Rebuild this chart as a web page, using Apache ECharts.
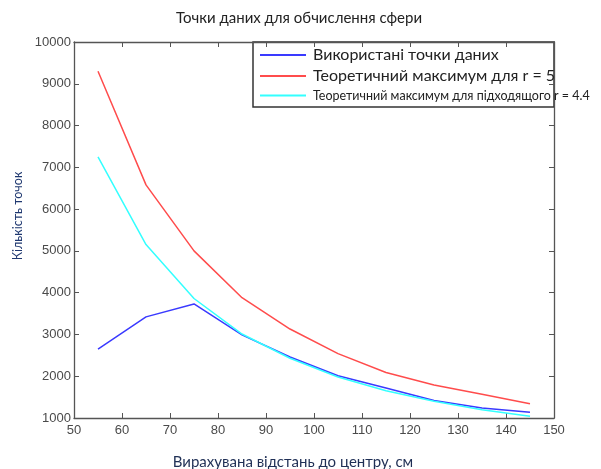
<!DOCTYPE html>
<html>
<head>
<meta charset="utf-8">
<script src="https://cdn.jsdelivr.net/npm/echarts@6/dist/echarts.min.js"></script>
<style>html,body{margin:0;padding:0;background:#fff}#c{width:601px;height:469px}</style>
</head>
<body>
<div id="c"></div>
<script>
var distances = [55, 65, 75, 85, 95, 105, 115, 125, 135, 145];
var usedPoints = [2650, 3420, 3730, 2990, 2460, 2010, 1720, 1420, 1240, 1140];
var theoryR5 = [9300, 6580, 5000, 3880, 3130, 2540, 2090, 1790, 1570, 1340];
var theoryR44 = [7250, 5150, 3860, 3010, 2430, 1980, 1650, 1400, 1200, 1040];
var seriesNames = ['Використані точки даних', 'Теоретичний максимум для r = 5', 'Теоретичний максимум для підходящого r = 4.4'];
var titleText = 'Точки даних для обчислення сфери';
var xName = 'Вирахувана відстань до центру, см';
var yName = 'Кількість точок';

function pairs(vals){ return distances.map(function(d,i){ return [d, vals[i]]; }); }

var chart = echarts.init(document.getElementById('c'), null, {renderer:'canvas'});
var tickFont = {color:'#4a4a4a', fontFamily:'"Liberation Sans", Arial, sans-serif', fontSize:13};
var axLine = {show:true, lineStyle:{color:'#555', width:1.3}};
var tick = {show:true, inside:true, length:5, lineStyle:{color:'#555'}};
var capFont = 'Lato, "Open Sans", sans-serif';
chart.setOption({
  animation:false,
  grid:{left:74, right:47, top:42, bottom:51, show:false},
  xAxis:[
    {type:'value', min:50, max:150, interval:10, axisLine:axLine, axisTick:tick, splitLine:{show:false},
     axisLabel:Object.assign({margin:6, formatter:function(v){return String(v);}}, tickFont)},
    {type:'value', position:'top', min:50, max:150, interval:10, axisLine:axLine, axisTick:tick, splitLine:{show:false}, axisLabel:{show:false}}
  ],
  yAxis:[
    {type:'value', min:1000, max:10000, interval:1000, axisLine:axLine, axisTick:tick, splitLine:{show:false},
     axisLabel:Object.assign({margin:3, formatter:function(v){return String(v);}}, tickFont)},
    {type:'value', position:'right', min:1000, max:10000, interval:1000, axisLine:axLine, axisTick:tick, splitLine:{show:false}, axisLabel:{show:false}}
  ],
  legend:{
    orient:'vertical', left:260, top:47, itemWidth:46, itemHeight:2, itemGap:5, padding:0, icon:'rect',
    data:[
      {name:seriesNames[0], textStyle:{fontSize:16}},
      {name:seriesNames[1], textStyle:{fontSize:16}},
      {name:seriesNames[2], textStyle:{fontSize:12.5}}
    ],
    textStyle:{color:'#222', fontFamily:capFont, padding:[0,0,0,2]}
  },
  graphic:[
    {type:'rect', shape:{x:253, y:42, width:301, height:65}, style:{fill:'#fff', stroke:'#333', lineWidth:1.5}, z:-1, zlevel:0},
    {type:'text', x:299, y:18, style:{text:titleText, fill:'#222', font:'15px '+capFont, textAlign:'center', textVerticalAlign:'middle'}},
    {type:'text', x:293, y:462, style:{text:xName, fill:'#1f2f55', font:'15px '+capFont, textAlign:'center', textVerticalAlign:'middle'}},
    {type:'text', x:18, y:216, rotation:Math.PI/2, style:{text:yName, fill:'#1f3870', font:'12.5px '+capFont, textAlign:'center', textVerticalAlign:'middle'}}
  ],
  series:[
    {name:seriesNames[0], type:'line', data:pairs(usedPoints), symbol:'none', lineStyle:{color:'#3a3aff', width:1.5}, itemStyle:{color:'#3a3aff'}},
    {name:seriesNames[1], type:'line', data:pairs(theoryR5), symbol:'none', lineStyle:{color:'#ff4c4c', width:1.5}, itemStyle:{color:'#ff4c4c'}},
    {name:seriesNames[2], type:'line', data:pairs(theoryR44), symbol:'none', lineStyle:{color:'#33ffff', width:1.5}, itemStyle:{color:'#33ffff'}}
  ]
});
</script>
</body>
</html>
